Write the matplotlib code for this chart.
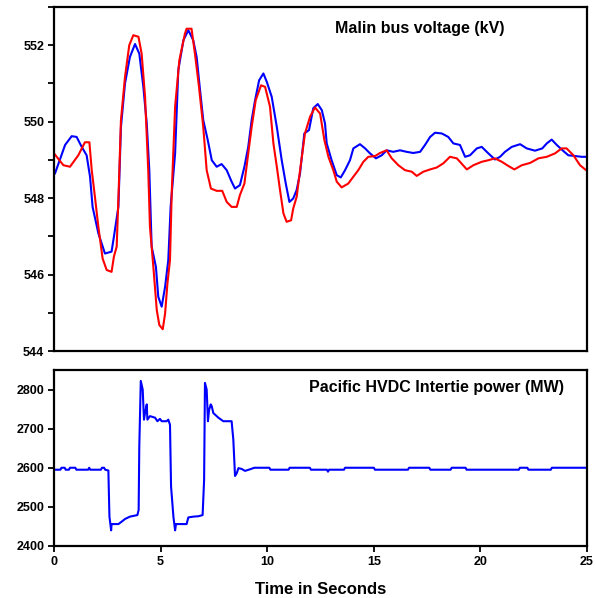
import matplotlib.pyplot as plt
from matplotlib.ticker import MultipleLocator

plt.rcParams['font.family'] = ['Liberation Sans', 'DejaVu Sans']
plt.rcParams['font.weight'] = 'bold'

# Malin bus voltage (kV), blue trace
blue_t = [0.05, 0.52, 0.83, 1.06, 1.30, 1.53, 1.69, 1.81, 2.08, 2.39, 2.70, 2.81, 3.02,
          3.14, 3.33, 3.56, 3.80, 4.00, 4.19, 4.35, 4.47, 4.58, 4.78, 4.89, 5.05, 5.21,
          5.36, 5.47, 5.68, 5.83, 6.07, 6.30, 6.53, 6.69, 6.85, 7.00, 7.21, 7.40, 7.63,
          7.86, 8.10, 8.33, 8.49, 8.72, 8.93, 9.11, 9.27, 9.43, 9.62, 9.82, 9.98, 10.21,
          10.45, 10.68, 10.87, 11.04, 11.22, 11.38, 11.54, 11.74, 11.96, 12.16, 12.37,
          12.56, 12.71, 12.79, 13.02, 13.26, 13.45, 13.65, 13.88, 14.04, 14.35, 14.59,
          14.82, 15.10, 15.37, 15.60, 15.91, 16.23, 16.54, 16.85, 17.17, 17.40, 17.64,
          17.87, 18.19, 18.49, 18.73, 19.04, 19.28, 19.51, 19.83, 20.06, 20.37, 20.68,
          20.92, 21.15, 21.47, 21.86, 22.17, 22.56, 22.90, 23.11, 23.34, 23.58, 23.81,
          24.12, 24.44, 24.75, 25.00]
blue_kv = [548.65, 549.39, 549.62, 549.60, 549.34, 549.12, 548.56, 547.77, 547.08, 546.55,
           546.60, 546.99, 547.77, 549.86, 551.00, 551.69, 552.03, 551.78, 550.91, 549.95,
           548.73, 546.73, 546.20, 545.42, 545.16, 545.68, 546.38, 547.77, 549.17, 551.35,
           552.13, 552.39, 552.13, 551.69, 550.82, 550.04, 549.52, 548.99, 548.82, 548.89,
           548.73, 548.43, 548.25, 548.34, 548.82, 549.34, 550.04, 550.56, 551.08, 551.26,
           551.04, 550.65, 549.86, 548.99, 548.38, 547.90, 547.99, 548.21, 548.65, 549.69,
           549.78, 550.35, 550.46, 550.30, 549.95, 549.43, 548.99, 548.60, 548.54, 548.73,
           548.99, 549.30, 549.41, 549.30, 549.17, 549.04, 549.12, 549.25, 549.21, 549.25,
           549.21, 549.18, 549.21, 549.39, 549.60, 549.71, 549.69, 549.60, 549.43, 549.39,
           549.08, 549.12, 549.30, 549.34, 549.17, 549.01, 549.08, 549.21, 549.34, 549.41,
           549.30, 549.24, 549.30, 549.43, 549.53, 549.39, 549.27, 549.12, 549.10, 549.08,
           549.08]

# Malin bus voltage (kV), red trace
red_t = [0.00, 0.44, 0.75, 1.14, 1.45, 1.66, 1.77, 1.92, 2.08, 2.28, 2.47, 2.70, 2.81, 2.94,
         3.05, 3.14, 3.33, 3.53, 3.72, 3.96, 4.11, 4.27, 4.42, 4.50, 4.66, 4.82, 4.94, 5.10,
         5.21, 5.32, 5.44, 5.52, 5.68, 5.88, 6.14, 6.22, 6.45, 6.61, 6.80, 7.00, 7.16, 7.36,
         7.63, 7.89, 8.10, 8.33, 8.57, 8.72, 8.93, 9.11, 9.27, 9.46, 9.71, 9.90, 10.13, 10.29,
         10.45, 10.60, 10.76, 10.91, 11.12, 11.22, 11.38, 11.54, 11.77, 12.01, 12.24, 12.48,
         12.68, 12.87, 13.10, 13.26, 13.49, 13.80, 14.04, 14.27, 14.51, 14.74, 15.06, 15.29,
         15.60, 15.84, 16.15, 16.46, 16.78, 17.01, 17.32, 17.64, 17.95, 18.26, 18.57, 18.89,
         19.04, 19.36, 19.67, 20.06, 20.37, 20.68, 21.00, 21.31, 21.59, 21.94, 22.33, 22.72,
         23.11, 23.50, 23.81, 24.04, 24.36, 24.67, 24.91, 25.00]
red_kv = [549.17, 548.86, 548.82, 549.12, 549.46, 549.46, 548.73, 548.03, 547.25, 546.42,
          546.12, 546.07, 546.47, 546.73, 548.47, 550.04, 551.17, 552.00, 552.26, 552.22,
          551.78, 550.65, 548.73, 547.25, 546.20, 545.07, 544.68, 544.57, 544.98, 545.77,
          546.38, 548.12, 550.39, 551.61, 552.30, 552.43, 552.43, 551.78, 550.91, 549.86,
          548.73, 548.25, 548.19, 548.19, 547.90, 547.77, 547.77, 548.08, 548.38, 549.17,
          549.86, 550.56, 550.95, 550.91, 550.39, 549.43, 548.82, 548.21, 547.60, 547.38,
          547.42, 547.73, 548.03, 548.73, 549.69, 550.13, 550.37, 550.21, 549.52, 549.08,
          548.73, 548.43, 548.28, 548.38, 548.56, 548.73, 548.95, 549.08, 549.10, 549.18,
          549.25, 549.04, 548.86, 548.73, 548.69, 548.58, 548.69, 548.75, 548.80, 548.91,
          549.08, 549.04, 548.95, 548.75, 548.86, 548.95, 548.99, 549.04, 548.95, 548.84,
          548.75, 548.86, 548.92, 549.04, 549.08, 549.17, 549.30, 549.30, 549.12, 548.86,
          548.75, 548.72]

# Pacific HVDC Intertie power (MW)
hvdc_t = [0.00, 0.30, 0.35, 0.50, 0.55, 0.70, 0.75, 1.00, 1.05, 1.60, 1.65, 1.70, 2.20,
          2.25, 2.35, 2.40, 2.55, 2.60, 2.68, 2.70, 3.02, 3.17, 3.33, 3.56, 3.91, 3.97,
          4.00, 4.07, 4.16, 4.22, 4.27, 4.35, 4.38, 4.50, 4.74, 4.85, 4.97, 5.05, 5.28,
          5.36, 5.44, 5.49, 5.60, 5.68, 5.72, 6.22, 6.30, 6.53, 6.77, 6.97, 7.04, 7.08,
          7.16, 7.22, 7.27, 7.35, 7.40, 7.47, 7.55, 7.71, 7.94, 8.33, 8.41, 8.49, 8.57,
          8.65, 8.80, 8.96, 9.19, 9.40, 10.10, 10.15, 11.00, 11.05, 12.00, 12.05, 12.80,
          12.85, 12.90, 13.60, 13.65, 15.00, 15.05, 16.60, 16.65, 17.60, 17.65, 18.60,
          18.65, 19.30, 19.35, 21.80, 21.85, 22.20, 22.25, 23.30, 23.35, 25.00]
hvdc_mw = [2595, 2595, 2600, 2600, 2595, 2595, 2600, 2600, 2595, 2595, 2600, 2595, 2595,
           2600, 2600, 2595, 2593, 2475, 2440, 2456, 2456, 2462, 2469, 2475, 2479, 2492,
           2654, 2822, 2800, 2723, 2740, 2762, 2723, 2732, 2728, 2719, 2725, 2719, 2719,
           2723, 2710, 2552, 2475, 2440, 2456, 2456, 2473, 2475, 2476, 2479, 2569, 2817,
           2800, 2719, 2747, 2762, 2757, 2740, 2736, 2728, 2719, 2719, 2672, 2579, 2586,
           2599, 2597, 2592, 2596, 2600, 2600, 2595, 2595, 2600, 2600, 2595, 2595,
           2590, 2595, 2595, 2600, 2600, 2595, 2595, 2600, 2600, 2595, 2595,
           2600, 2600, 2595, 2595, 2600, 2600, 2595, 2595, 2600, 2600]

fig = plt.figure(figsize=(5.96, 5.98), dpi=100)
ax1 = fig.add_axes([0.0906, 0.413, 0.8944, 0.5754])
ax2 = fig.add_axes([0.0906, 0.087, 0.8944, 0.2943])

ax1.plot(blue_t, blue_kv, color='#0000ff', lw=1.5)
ax1.plot(red_t, red_kv, color='#ff0000', lw=1.5)
ax1.set_xlim(0, 25)
ax1.set_ylim(544, 553)
ax1.yaxis.set_major_locator(MultipleLocator(2))
ax1.yaxis.set_minor_locator(MultipleLocator(1))
ax1.set_xticks([])
ax1.text(0.687, 0.936, 'Malin bus voltage (kV)', transform=ax1.transAxes,
         ha='center', va='center', fontsize=11.5, fontweight='bold')

ax2.plot(hvdc_t, hvdc_mw, color='#0000ff', lw=1.5)
ax2.set_xlim(0, 25)
ax2.set_ylim(2400, 2850)
ax2.set_xticks([0, 5, 10, 15, 20, 25])
ax2.set_yticks([2400, 2500, 2600, 2700, 2800])
ax2.text(0.717, 0.903, 'Pacific HVDC Intertie power (MW)', transform=ax2.transAxes,
         ha='center', va='center', fontsize=11.5, fontweight='bold')
ax2.set_xlabel('Time in Seconds', fontsize=12, fontweight='bold', labelpad=10)

for ax in (ax1, ax2):
    for s in ax.spines.values():
        s.set_linewidth(1.6)
    ax.tick_params(which='both', direction='out', length=4, width=1.3,
                   labelsize=9, pad=3)

fig.savefig('out.png', dpi=100)
